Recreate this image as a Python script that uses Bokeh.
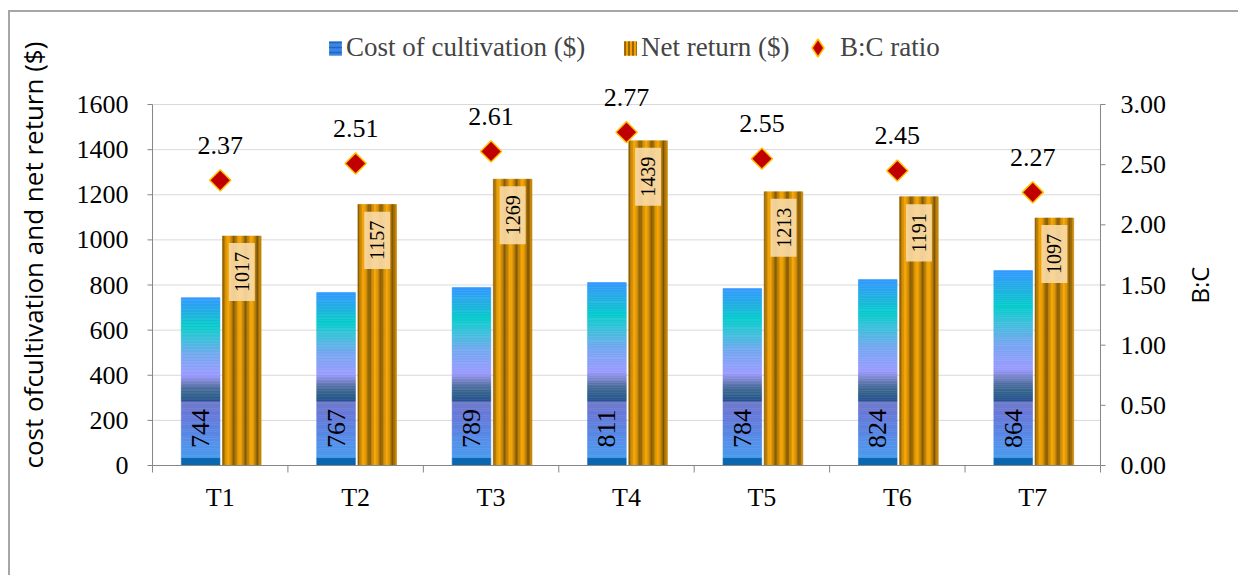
import math
import numpy as np
from bokeh.plotting import figure
from bokeh.models import Range1d, ColumnDataSource, Legend, LegendItem
from bokeh.core.properties import value
from bokeh.embed import file_html
from bokeh.resources import INLINE

# ---------------- data ----------------
treatments = ["T1", "T2", "T3", "T4", "T5", "T6", "T7"]
cost = [744, 767, 789, 811, 784, 824, 864]
net_return = [1017, 1157, 1269, 1439, 1213, 1191, 1097]
bc_ratio = [2.37, 2.51, 2.61, 2.77, 2.55, 2.45, 2.27]
left_ticks = [0, 200, 400, 600, 800, 1000, 1200, 1400, 1600]
right_ticks = [0.0, 0.5, 1.0, 1.5, 2.0, 2.5, 3.0]
y_title = "cost ofcultivation and net return ($)"
y2_title = "B:C"

# ---------------- styles ----------------
SERIF = "Liberation Serif"
SANS = "Open Sans"
AXIS_COL = "#868686"
COST_L, COST_R = -0.287, -0.002
NET_L, NET_R = 0.017, 0.302
BASE_TOP = 35      # dark band at bottom of cost bars
BAND_TOP = 285     # hard colour change inside cost bars
Y_TOP = 1999       # head-room above the 1600 axis end (legend, labels)
Y_BOT = -496.4     # room below zero for the category labels
X_START = -1.0485  # room left of the categories for the value axis
X_END = 8.034      # room right of the last category for the B:C axis


def hex2rgb(h):
    return np.array([int(h[i:i + 2], 16) for i in (1, 3, 5)], float)


def interp(stops, t):
    for (p0, c0), (p1, c1) in zip(stops[:-1], stops[1:]):
        if t <= p1:
            f = 0 if p1 == p0 else (t - p0) / (p1 - p0)
            c = hex2rgb(c0) * (1 - f) + hex2rgb(c1) * f
            return "#%02x%02x%02x" % tuple(int(round(v)) for v in c)
    return stops[-1][1]


lower_stops = [(0.0, "#4a9cf0"), (0.45, "#5a86e4"), (0.85, "#6c78d6"), (1.0, "#6e7ec4")]
upper_stops = [(0.0, "#2b4f96"), (0.06, "#2f618a"), (0.13, "#4d6e9e"), (0.19, "#7b86cc"),
               (0.25, "#9b9bff"), (0.45, "#74a8f0"), (0.60, "#40c0dc"), (0.73, "#06cccc"),
               (0.86, "#22b0e2"), (1.0, "#3399ff")]

# cost bars built from gradient slices
cx, cb, ct, cc = [], [], [], []
for i, v in enumerate(cost):
    xc = i + 0.5 + (COST_L + COST_R) / 2
    cx.append(xc); cb.append(0); ct.append(min(v, BASE_TOP)); cc.append("#0b66b0")
    n = 24
    edges = np.linspace(BASE_TOP, min(v, BAND_TOP), n + 1)
    for k in range(n):
        cx.append(xc); cb.append(edges[k]); ct.append(edges[k + 1])
        cc.append(interp(lower_stops, (k + 0.5) / n))
    n = 70
    edges = np.linspace(BAND_TOP, v, n + 1)
    for k in range(n):
        cx.append(xc); cb.append(edges[k]); ct.append(edges[k + 1])
        cc.append(interp(upper_stops, (k + 0.5) / n))
cost_src = ColumnDataSource(dict(x=cx, bottom=cb, top=ct, color=cc))

# net return bars built from vertical strips
N_STRIP = 26
sw = (NET_R - NET_L) / N_STRIP
period = 0.0862
stripe_stops = [(0.0, "#7a5000"), (0.22, "#c08200"), (0.5, "#ffaa00"), (0.78, "#c88800"), (1.0, "#7a5000")]
nx, nt, nc = [], [], []
for i, v in enumerate(net_return):
    for k in range(N_STRIP):
        off = (k + 0.5) * sw
        t = (off % period) / period
        nx.append(i + 0.5 + NET_L + off); nt.append(v)
        nc.append(interp(stripe_stops, t))
net_src = ColumnDataSource(dict(x=nx, top=nt, color=nc))

n_cat = len(treatments)
centers = [i + 0.5 for i in range(n_cat)]
bounds_x = list(range(n_cat + 1))
cost_x = [c + (COST_L + COST_R) / 2 for c in centers]
net_x = [c + (NET_L + NET_R) / 2 for c in centers]
bc_scale = right_ticks[-1] / left_ticks[-1]

# ---------------- figure ----------------
p = figure(width=1230, height=565, output_backend="svg", toolbar_location=None,
           x_range=Range1d(X_START, X_END), y_range=Range1d(Y_BOT, Y_TOP),
           min_border_left=0, min_border_right=0, min_border_top=2, min_border_bottom=0)
p.styles = {"margin-left": "8px", "margin-top": "10px",
            "border-left": "2px solid #a6a6a6", "border-top": "2px solid #a6a6a6"}
p.outline_line_color = None
p.background_fill_color = "white"
p.border_fill_color = "white"
p.extra_y_ranges = {"bc": Range1d(Y_BOT * bc_scale, Y_TOP * bc_scale)}
p.xgrid.visible = False
p.ygrid.visible = False
p.xaxis.visible = False
p.yaxis.visible = False

# horizontal grid lines between the two axes
p.segment(x0=0, x1=n_cat, y0=left_ticks[1:], y1=left_ticks[1:],
          line_color="#d9d9d9", line_width=1)

p.vbar(x="x", bottom="bottom", top="top", width=COST_R - COST_L, source=cost_src,
       fill_color="color", line_color="color", line_width=0.6)
p.vbar(x="x", top="top", bottom=0, width=sw, source=net_src,
       fill_color="color", line_color="color", line_width=0.6)

# category axis (line at zero, boundary ticks, labels)
p.segment(x0=0, x1=n_cat, y0=left_ticks[0], y1=left_ticks[0], line_color=AXIS_COL, line_width=1)
p.ray(x=bounds_x, y=[left_ticks[0]] * len(bounds_x), length=7, length_units="screen",
      angle=-math.pi / 2, line_color=AXIS_COL, line_width=1)
p.text(x=centers, y=[left_ticks[0]] * n_cat, text=treatments, y_offset=32,
       text_align="center", text_baseline="middle",
       text_font=value(SERIF), text_font_size="26px", text_color="black")

# value axis on the left
p.segment(x0=0, x1=0, y0=left_ticks[0], y1=left_ticks[-1], line_color=AXIS_COL, line_width=1)
p.ray(x=[0] * len(left_ticks), y=left_ticks, length=5, length_units="screen",
      angle=math.pi, line_color=AXIS_COL, line_width=1)
p.text(x=[0] * len(left_ticks), y=left_ticks, text=[str(v) for v in left_ticks],
       x_offset=-24, text_align="right", text_baseline="middle",
       text_font=value(SERIF), text_font_size="26px", text_color="black")
p.text(x=[0], y=[left_ticks[0]], text=[y_title], angle=math.pi / 2,
       x_offset=-119, y_offset=3, text_align="left", text_baseline="alphabetic",
       text_font=value(SANS), text_font_size="26px", text_color="black")

# labels in cost bars
p.text(x=cost_x, y=[0] * n_cat, text=[str(v) for v in cost], angle=math.pi / 2,
       y_offset=-37, text_align="center", text_baseline="middle",
       text_font=value(SERIF), text_font_size="26px", text_color="black")

# labels in net return bars
p.text(x=net_x, y=net_return, text=[str(v) for v in net_return], angle=math.pi / 2,
       y_offset=36, text_align="center", text_baseline="middle",
       text_font=value(SERIF), text_font_size="20px", text_color="black",
       background_fill_color="#f8d9a4", background_fill_alpha=0.92, padding=(9, 6))

# B:C ratio (rotated squares = Excel diamonds)
diam = p.scatter(x=centers, y=bc_ratio, y_range_name="bc", marker="square", angle=math.pi / 4,
                 size=15, fill_color="#c00000", line_color="#ffc000", line_width=1.5)
p.text(x=centers, y=bc_ratio, y_range_name="bc", text=["%.2f" % v for v in bc_ratio],
       y_offset=-35, text_align="center", text_baseline="middle",
       text_font=value(SERIF), text_font_size="26px", text_color="black")

# secondary (B:C) axis on the right of the categories
p.segment(x0=n_cat, x1=n_cat, y0=right_ticks[0], y1=right_ticks[-1], y_range_name="bc",
          line_color=AXIS_COL, line_width=1)
p.ray(x=[n_cat] * len(right_ticks), y=right_ticks, y_range_name="bc", length=5,
      length_units="screen", angle=0, line_color=AXIS_COL, line_width=1)
p.text(x=[n_cat] * len(right_ticks), y=right_ticks, y_range_name="bc",
       text=["%.2f" % v for v in right_ticks], x_offset=20,
       text_align="left", text_baseline="middle",
       text_font=value(SERIF), text_font_size="26px", text_color="black")
p.text(x=[n_cat], y=[(right_ticks[0] + right_ticks[-1]) / 2], y_range_name="bc",
       text=[y2_title], angle=math.pi / 2, x_offset=99,
       text_align="center", text_baseline="middle",
       text_font=value(SANS), text_font_size="24px", text_color="black")

# legend (icons need one non-drawn row)
cost_icon = p.vbar(x=[np.nan], top=[np.nan], width=0.1, fill_color="#3a86e6", line_color=None,
                   hatch_pattern="-", hatch_color="#1d55a8", hatch_alpha=0.7,
                   hatch_scale=5, hatch_weight=1.5)
net_icon = p.vbar(x=[np.nan], top=[np.nan], width=0.1, fill_color="#f0a000", line_color=None,
                  hatch_pattern="|", hatch_color="#7a5000", hatch_scale=4, hatch_weight=1.5)
diam_icon = p.scatter(x=[np.nan], y=[np.nan], marker="diamond", size=10,
                      fill_color="#c00000", line_color="#ffc000", line_width=1.5)

common = dict(orientation="horizontal", label_text_font=SERIF, label_text_font_size="27px",
              padding=0, margin=0, border_line_color=None, background_fill_alpha=0)
leg1 = Legend(items=[LegendItem(label="Cost of cultivation ($)", renderers=[cost_icon])],
              location=(317, 514), glyph_width=16, glyph_height=18, label_standoff=3, **common)
leg2 = Legend(items=[LegendItem(label="Net return ($)", renderers=[net_icon])],
              location=(612, 514), glyph_width=16, glyph_height=18, label_standoff=3, **common)
leg3 = Legend(items=[LegendItem(label="B:C ratio", renderers=[diam_icon])],
              location=(785, 507), glyph_width=45, glyph_height=45, label_standoff=-7, **common)
for lg in (leg1, leg2, leg3):
    p.add_layout(lg)

open("out.html", "w").write(file_html(p, INLINE))
